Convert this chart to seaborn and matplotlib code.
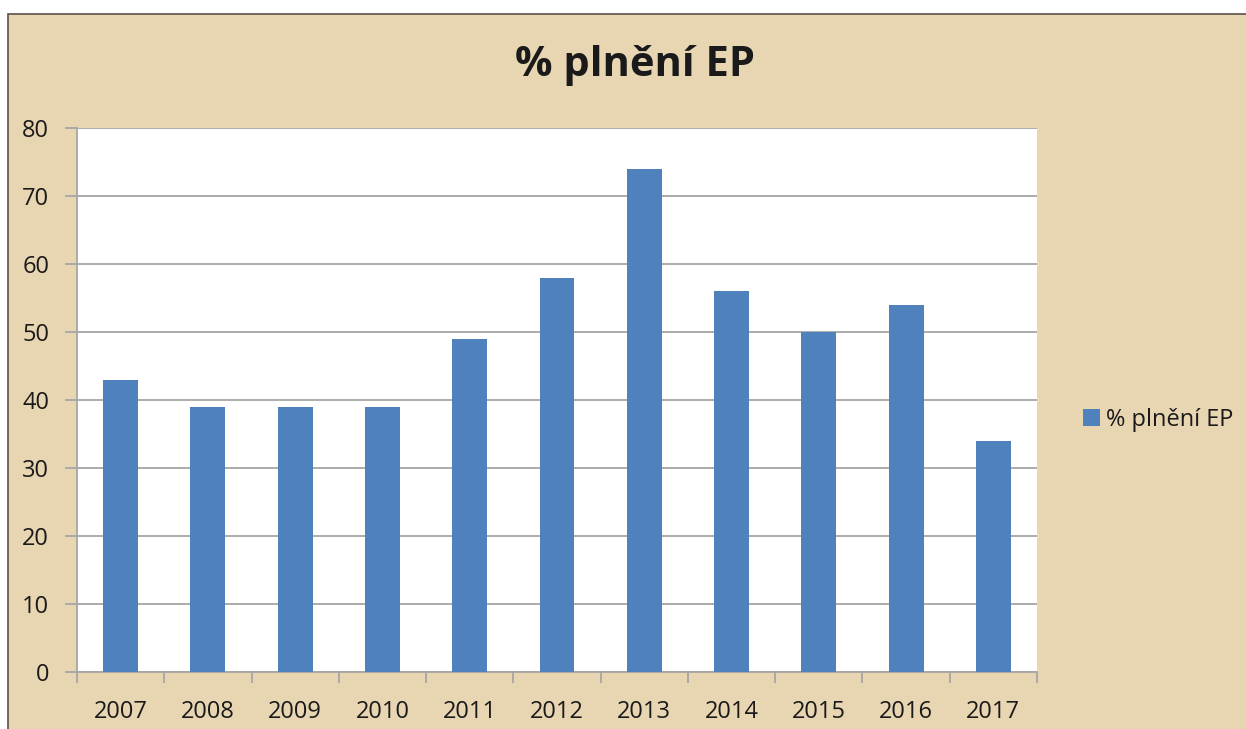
import matplotlib
matplotlib.use('Agg')
import matplotlib.pyplot as plt
import seaborn as sns
import pandas as pd
from matplotlib.patches import Rectangle
from matplotlib.ticker import FixedLocator

# Data
years = ['2007', '2008', '2009', '2010', '2011', '2012',
         '2013', '2014', '2015', '2016', '2017']
percent = [43, 39, 39, 39, 49, 58, 74, 56, 50, 54, 34]
series_name = '% plnění EP'

df = pd.DataFrame({'rok': years, 'hodnota': percent})

sns.set_style('white')
plt.rcParams['font.family'] = ['Open Sans', 'DejaVu Sans']

bar_color = '#4F81BD'
paper = '#E8D5B1'
grid_color = '#A6A6A6'
text_color = '#1a1a1a'

fig = plt.figure(figsize=(12.46, 7.29), dpi=100)
fig.patch.set_facecolor('white')

# parchment-like background panel with dark border at left/top
fig.patches.append(Rectangle((8 / 1246, -0.01), 1.0, 1 - 14 / 729 + 0.01,
                             transform=fig.transFigure, facecolor=paper,
                             edgecolor='#5a5048', linewidth=1.2, zorder=-5))

ax = fig.add_axes([77 / 1246, 57 / 729, 960 / 1246, 544 / 729])
ax.set_zorder(2)
ax.set_facecolor('white')

sns.barplot(data=df, x='rok', y='hodnota', color=bar_color, width=0.4,
            saturation=1, linewidth=0, ax=ax, label=series_name, zorder=3)

ax.set_ylim(0, 80)
ax.set_yticks(range(0, 81, 10))
ax.set_xlim(-0.5, len(years) - 0.5)
ax.yaxis.grid(True, color=grid_color, linewidth=1.3, zorder=0)
ax.set_axisbelow(True)

for side in ['top', 'right']:
    ax.spines[side].set_visible(False)
for side in ['left', 'bottom']:
    ax.spines[side].set_color(grid_color)
    ax.spines[side].set_linewidth(1.3)

# Excel-style ticks on category boundaries
ax.xaxis.set_minor_locator(FixedLocator([i - 0.5 for i in range(len(years) + 1)]))
ax.tick_params(axis='x', which='major', length=0, pad=20,
               labelsize=17, labelcolor=text_color)
ax.tick_params(axis='x', which='minor', length=8, width=1.3,
               color=grid_color, direction='out', bottom=True)
ax.tick_params(axis='y', which='major', length=9, width=1.3,
               color=grid_color, direction='out', left=True, pad=11,
               labelsize=17, labelcolor=text_color)

ax.set_xlabel('')
ax.set_ylabel('')

fig.text(0.51, 0.91, series_name, ha='center', va='center',
         fontsize=30, fontweight='bold', color=text_color)

handles, labels = ax.get_legend_handles_labels()
leg = ax.legend(handles, labels, loc='center left',
                bbox_to_anchor=(1062 / 1246, 309 / 729),
                bbox_transform=fig.transFigure, frameon=False,
                fontsize=17, handlelength=0.7, handleheight=0.7,
                handletextpad=0.25)
for t in leg.get_texts():
    t.set_color(text_color)

fig.savefig('out.png', dpi=100, facecolor=fig.get_facecolor())
